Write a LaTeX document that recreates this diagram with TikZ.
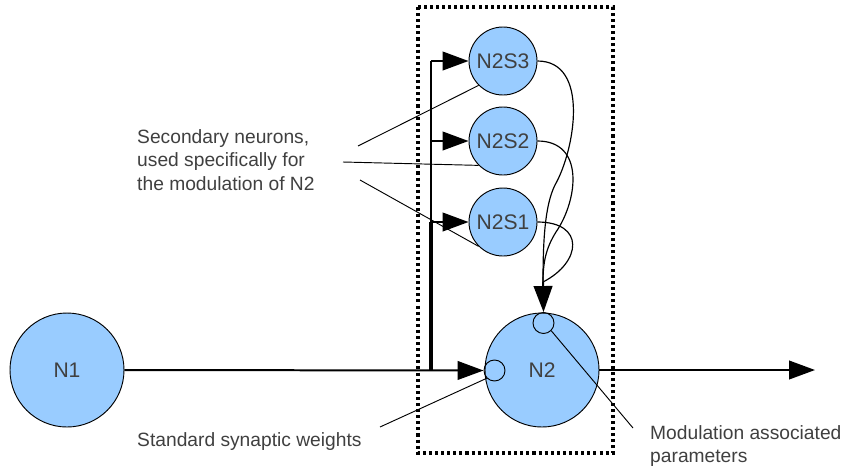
\documentclass[tikz,border=0pt]{standalone}
\usepackage{fontspec}
\setmainfont{Liberation Sans}
\usepackage{xcolor}
\usepackage{tikz}
\usetikzlibrary{positioning,arrows.meta}
\definecolor{neuron}{HTML}{99CCFF}
\definecolor{ink}{HTML}{404040}

\begin{document}
\begin{tikzpicture}[x=0.03cm,y=-0.03cm,
      neuron/.style={circle,draw=black,fill=neuron,line width=0.8pt,inner sep=0pt,text=ink,font=\fontsize{18}{20}\selectfont},
      bigneuron/.style={neuron,minimum size=3.42cm},
      subneuron/.style={neuron,minimum size=2.04cm},
      port/.style={circle,draw=black,line width=0.8pt,inner sep=0pt,minimum size=0.63cm},
      label/.style={align=left,anchor=west,text=ink,font=\fontsize{16.4}{20}\selectfont,inner sep=0pt},
      arrow/.style={-{Triangle[length=0.78cm,width=0.56cm]},line width=1.7pt},
      callout/.style={line width=0.8pt},
      feedback/.style={line width=1pt},
      box/.style={line width=2.6pt,dash pattern=on 2.6pt off 2.6pt}]
      \fill[white] (0,0) rectangle (841,465);
      \useasboundingbox (0,0) rectangle (841,465);
      \node[bigneuron] (n1) at (67,370) {N1};
      \node[bigneuron] (n2) at (542,370) {N2};
      \node[subneuron] (s3) at (503,61) {N2S3};
      \node[subneuron] (s2) at (503,141) {N2S2};
      \node[subneuron] (s1) at (503,222) {N2S1};
      \node[port] (w) at (494.5,370.5) {};
      \node[port] (mod) at (543.5,323) {};
      \coordinate (tap) at (431,370);
      \coordinate (join) at (543,282);
      \coordinate (out) at (815,370);
      \draw[arrow] (n1.east) -- (w.west);
      \draw[arrow] (n2.east) -- (out);
      \draw[line width=3.4pt] (tap) -- (tap |- s1.west);
      \draw[line width=1.7pt] (tap |- s1.west) -- (tap |- s3.west);
      \foreach \s in {s1,s2,s3}
        \draw[arrow] (tap |- \s.west) -- (\s.west);
      \draw[feedback] (s3.east) .. controls (590,61) and (575,150) .. (555,185) .. controls (545,205) and (543,240) .. (join);
      \draw[feedback] (s2.east) .. controls (585,141) and (578,200) .. (556,232) .. controls (546,248) and (543,262) .. (join);
      \draw[feedback] (s1.east) .. controls (585,222) and (582,262) .. (join);
      \draw[arrow] (join) -- (mod.north);
      \node[label] (sec) at (137,160) {Secondary neurons,\\used specifically for\\the modulation of N2};
      \node[label] (std) at (137,442) {Standard synaptic weights};
      \node[label] (modlab) at (650,446) {Modulation associated\\parameters};
      \coordinate (c3) at (358,146);
      \coordinate (c2) at (343,162);
      \coordinate (c1) at (360,180);
      \coordinate (cw) at (380,427);
      \coordinate (cm) at (633,428);
      \draw[callout] (c3) -- (s3.225);
      \draw[callout] (c2) -- (s2.225);
      \draw[callout] (c1) -- (s1.225);
      \draw[callout] (cw) -- (w.225);
      \draw[callout] (cm) -- (mod.-45);
      \draw[box] (418,7) rectangle (613,453);
    \end{tikzpicture}
\end{document}
